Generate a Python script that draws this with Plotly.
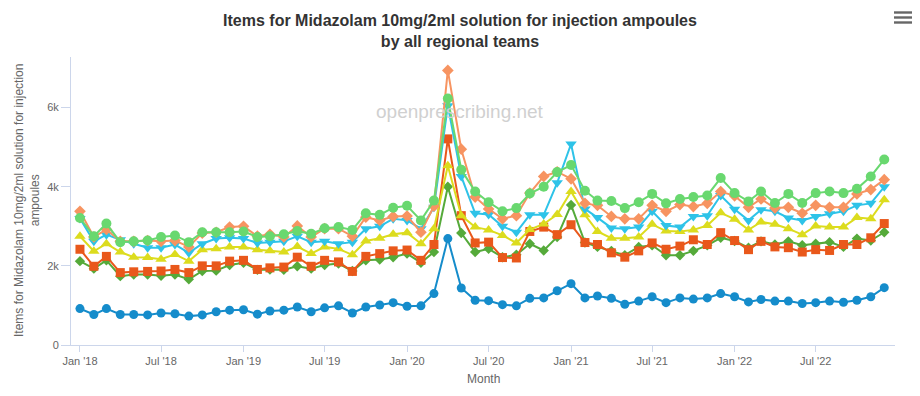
import plotly.graph_objects as go

months = [f"{y}-{m:02d}-01" for y in range(2018, 2023) for m in range(1, 13)]

blue = [920, 770, 920, 770, 770, 760, 810, 790, 730, 760, 840, 880,
        890, 780, 860, 880, 960, 840, 940, 990, 810, 960, 1010, 1070,
        980, 990, 1300, 2690, 1440, 1130, 1120, 1020, 990, 1180, 1190, 1370,
        1550, 1190, 1240, 1180, 1030, 1110, 1220, 1070, 1190, 1160, 1190, 1300,
        1220, 1090, 1150, 1110, 1110, 1050, 1070, 1110, 1080, 1130, 1220, 1450]

dark_green = [2120, 1930, 2140, 1740, 1780, 1780, 1750, 1780, 1660, 1870, 1880, 2020,
              2080, 1900, 1910, 1900, 1990, 1930, 2020, 2060, 1870, 2140, 2160, 2220,
              2310, 2080, 2350, 4000, 2830, 2350, 2430, 2220, 2280, 2560, 2390, 2730,
              3540, 2590, 2480, 2380, 2270, 2480, 2520, 2270, 2270, 2380, 2520, 2710,
              2630, 2460, 2620, 2540, 2620, 2520, 2560, 2600, 2480, 2690, 2640, 2850]

red = [2420, 1990, 2240, 1830, 1850, 1860, 1870, 1910, 1830, 2000, 2000, 2120,
       2140, 1910, 1950, 1970, 2220, 1990, 2140, 2100, 1860, 2240, 2310, 2380,
       2400, 2140, 2540, 5210, 3270, 2580, 2600, 2210, 2200, 2870, 2980, 2790,
       3040, 2590, 2540, 2330, 2220, 2380, 2580, 2420, 2500, 2660, 2540, 2840,
       2640, 2410, 2620, 2480, 2460, 2350, 2410, 2390, 2540, 2540, 2710, 3070]

yellow = [2750, 2370, 2560, 2350, 2220, 2210, 2170, 2290, 2120, 2410, 2430, 2480,
          2480, 2410, 2380, 2350, 2490, 2310, 2480, 2430, 2280, 2630, 2700, 2800,
          2840, 2560, 2940, 4530, 3270, 2980, 2910, 2770, 2580, 2920, 3060, 3300,
          3880, 3290, 2870, 2700, 2700, 2730, 3050, 2880, 2870, 2910, 3020, 3340,
          3180, 2910, 3110, 3050, 2940, 2790, 3010, 2980, 2980, 3220, 3190, 3670]

cyan = [3200, 2620, 2790, 2660, 2560, 2460, 2460, 2540, 2330, 2560, 2690, 2710,
        2690, 2580, 2600, 2620, 2750, 2600, 2620, 2560, 2600, 2940, 3000, 3190,
        3150, 2940, 3480, 6050, 4260, 3330, 3300, 3000, 2850, 3290, 3290, 4100,
        5080, 3440, 3220, 2960, 2940, 2980, 3380, 3020, 2980, 3250, 3270, 3780,
        3430, 3150, 3420, 3380, 3210, 3150, 3250, 3320, 3380, 3530, 3580, 4000]

salmon = [3380, 2730, 2920, 2620, 2620, 2640, 2620, 2640, 2480, 2830, 2850, 2980,
          3000, 2750, 2800, 2730, 3010, 2730, 2940, 2940, 2750, 3230, 3150, 3250,
          3260, 2850, 3510, 6940, 4950, 3740, 3440, 3190, 3270, 3840, 4260, 4380,
          4200, 3580, 3530, 3250, 3190, 3190, 3530, 3380, 3550, 3500, 3580, 3880,
          3770, 3480, 3690, 3460, 3480, 3330, 3530, 3480, 3480, 3820, 3930, 4180]

light_green = [3210, 2750, 3070, 2600, 2620, 2640, 2730, 2770, 2600, 2850, 2850, 2850,
               2870, 2730, 2750, 2800, 2880, 2810, 2950, 2980, 2910, 3330, 3290, 3470,
               3520, 3150, 3650, 6230, 4430, 3880, 3610, 3380, 3460, 3830, 4000, 4370,
               4550, 3900, 3650, 3640, 3460, 3610, 3820, 3580, 3690, 3740, 3780, 4220,
               3840, 3630, 3880, 3590, 3820, 3590, 3840, 3880, 3840, 3950, 4260, 4690]

tick_vals = ["2018-01-01", "2018-07-01", "2019-01-01", "2019-07-01", "2020-01-01",
             "2020-07-01", "2021-01-01", "2021-07-01", "2022-01-01", "2022-07-01"]
tick_text = ["Jan '18", "Jul '18", "Jan '19", "Jul '19", "Jan '20",
             "Jul '20", "Jan '21", "Jul '21", "Jan '22", "Jul '22"]

series = [
    ("Team 1", blue, "#158ccb", "circle", 9),
    ("Team 2", dark_green, "#55aa3a", "diamond", 8),
    ("Team 3", red, "#e9581b", "square", 9),
    ("Team 4", yellow, "#dcdc1e", "triangle-up", 10),
    ("Team 5", cyan, "#2ec3e8", "triangle-down", 10),
    ("Team 6", salmon, "#f79461", "diamond", 9),
    ("Team 7", light_green, "#69d86f", "circle", 10),
]

fig = go.Figure()
for name, vals, col, sym, sz in series:
    fig.add_trace(go.Scatter(
        x=months, y=vals, name=name, mode="lines+markers",
        line=dict(color=col, width=2),
        marker=dict(color=col, symbol=sym, size=sz, line=dict(width=0)),
    ))

# page offset (browser body margin)
OFF = 8
W, H = 920 - OFF, 396 - OFF
# plot area in page pixels
L, R, T, B = 71, 895, 57, 345

def px(x):
    return (x - L) / (R - L)

def py(y):
    return (B - y) / (B - T)

fig.update_layout(
    width=W, height=H,
    margin=dict(l=L - OFF, r=W - (R - OFF), t=T - OFF, b=H - (B - OFF)),
    paper_bgcolor="white", plot_bgcolor="white",
    showlegend=False,
    font=dict(family="Liberation Sans, Arial, sans-serif", color="#666666"),
    title=dict(
        text="Items for Midazolam 10mg/2ml solution for injection ampoules<br>by all regional teams",
        x=px(460), xref="paper", xanchor="center", y=1 - (26 - OFF) / H, yanchor="middle",
        font=dict(size=16, color="#333333", family="Liberation Sans, Arial, sans-serif", weight="bold"),
    ),
    xaxis=dict(
        type="date",
        range=["2017-12-12", "2022-12-25"],
        tickvals=tick_vals, ticktext=tick_text,
        showgrid=False, zeroline=False,
        showline=True, linecolor="#ccd6eb", linewidth=1,
        ticks="outside", ticklen=6, tickcolor="#ccd6eb",
        tickfont=dict(size=11, color="#666666"),
    ),
    yaxis=dict(
        range=[0, 7280],
        tickvals=[0, 2000, 4000, 6000], ticktext=["0", "2k", "4k", "6k"],
        showgrid=False, zeroline=False,
        showline=True, linecolor="#ccd6eb", linewidth=1,
        ticks="outside", ticklen=9, tickcolor="#ccd6eb",
        tickfont=dict(size=11, color="#666666"),
    ),
    annotations=[
        dict(text="Items for Midazolam 10mg/2ml solution for injection<br>ampoules",
             xref="paper", yref="paper", x=px(27), y=py(201), textangle=-90,
             showarrow=False, xanchor="center", yanchor="middle",
             font=dict(size=12, color="#666666")),
        dict(text="Month", xref="paper", yref="paper", x=px(483), y=py(379),
             showarrow=False, xanchor="center", yanchor="middle",
             font=dict(size=12, color="#666666")),
        dict(text="openprescribing.net", xref="paper", yref="paper", x=px(460), y=py(111),
             showarrow=False, xanchor="center", yanchor="middle",
             font=dict(size=19, color="#d0d0d0")),
    ],
    shapes=[
        dict(type="rect", xref="paper", yref="paper",
             x0=px(894), x1=px(912), y0=py(yy - 1.2), y1=py(yy + 1.2),
             fillcolor="#666666", line=dict(width=0))
        for yy in (12.5, 17.5, 22.5)
    ],
)

fig.write_html("out.html")
